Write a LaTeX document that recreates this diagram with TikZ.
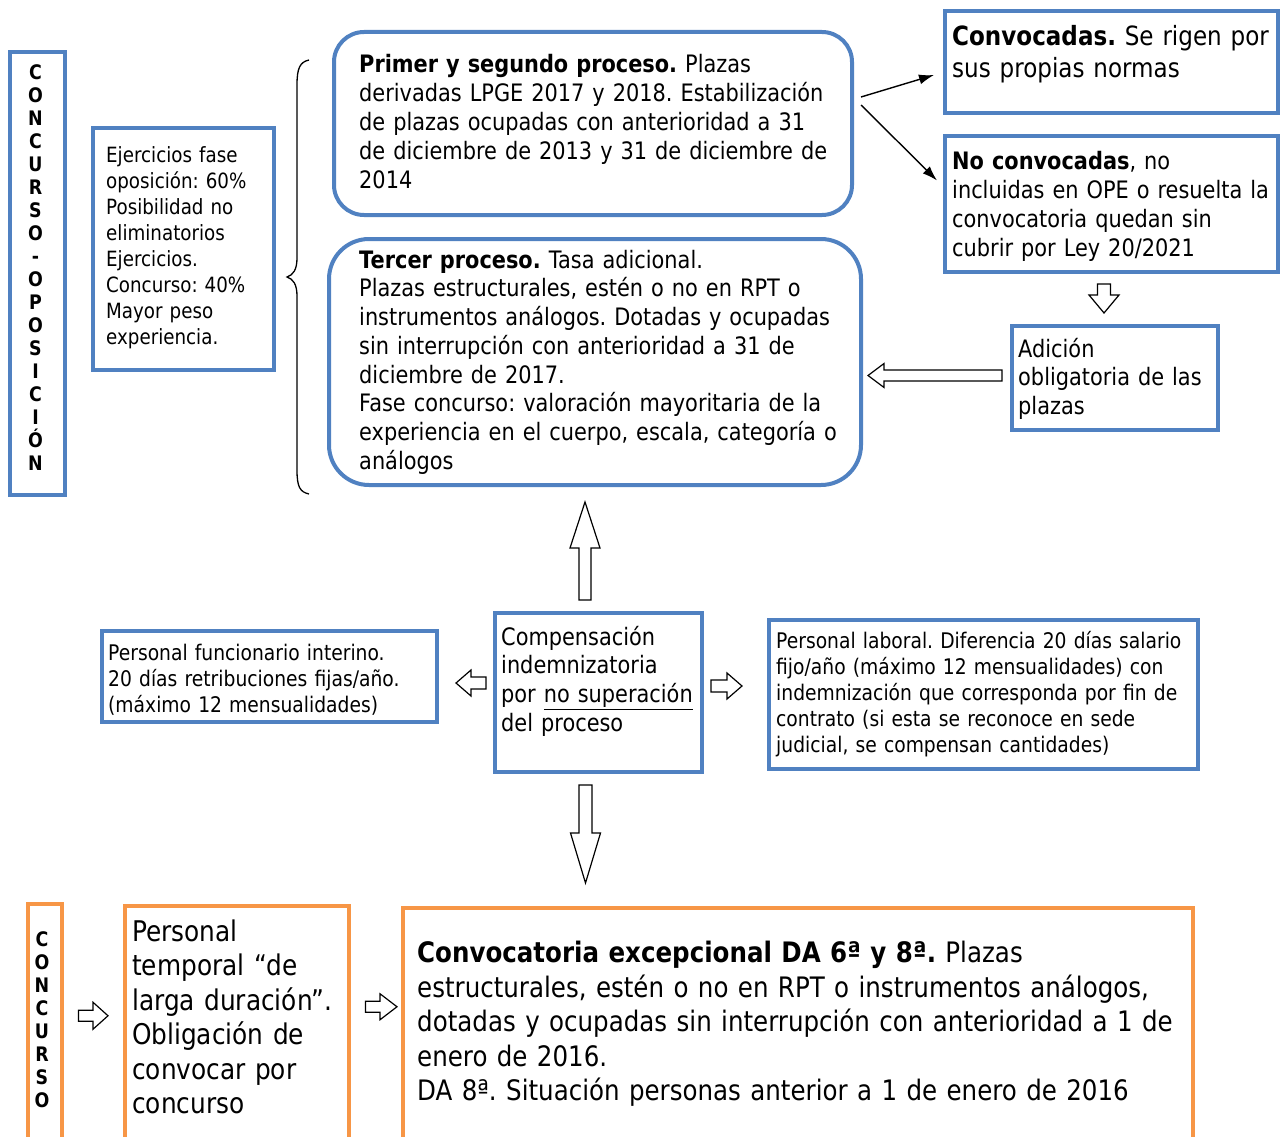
\documentclass[tikz,border=0pt]{standalone}
\usepackage{fontspec}
\setmainfont{DejaVu Sans}[FakeStretch=0.87]
\frenchspacing
\usetikzlibrary{calc,arrows.meta}
\definecolor{bblue}{RGB}{80,129,193}
\definecolor{borange}{RGB}{247,150,70}
\newcommand\fs{\rule{0pt}{0.95em}}
\newcommand\barrowV[5]{\draw[barrow] let \p1=(#1), \p2=(#2), \n1={sign(\y2-(\y1))*#5} in
  ({\x1-#3pt},\y1) -- ({\x1-#3pt},{\y2-(\n1)}) -- ({\x1-#4pt},{\y2-(\n1)}) -- (\x1,\y2) -- ({\x1+#4pt},{\y2-(\n1)}) -- ({\x1+#3pt},{\y2-(\n1)}) -- ({\x1+#3pt},\y1) -- cycle;}
\newcommand\barrowH[5]{\draw[barrow] let \p1=(#1), \p2=(#2), \n1={sign(\x2-(\x1))*#5} in
  (\x1,{\y1-#3pt}) -- ({\x2-(\n1)},{\y1-#3pt}) -- ({\x2-(\n1)},{\y1-#4pt}) -- (\x2,\y1) -- ({\x2-(\n1)},{\y1+#4pt}) -- ({\x2-(\n1)},{\y1+#3pt}) -- (\x1,{\y1+#3pt}) -- cycle;}
\tikzset{
  bbox/.style={draw=bblue, line width=4pt, inner sep=0pt, anchor=north west},
  obox/.style={draw=borange, line width=3.5pt, inner sep=0pt, anchor=north west},
  txt/.style={anchor=north west, inner sep=0pt, align=left, text width=1000pt},
  vlet/.style={align=center, inner sep=0pt, font=\bfseries\fontsize{20}{23}\selectfont},
  barrow/.style={draw=black, fill=white, line width=1.2pt, line join=miter},
  larrow/.style={draw=black, line width=1.4pt, -{Latex[length=15pt,width=10pt]}},
}
\begin{document}
\begin{tikzpicture}[x=1pt,y=-1pt]
\useasboundingbox (0,0) rectangle (1282,1137);
\clip (0,0) rectangle (1282,1137);

% ---- boxes ----
\node[bbox, minimum width=55pt, minimum height=443pt] (vb1) at (8,50) {};
\node[bbox, minimum width=181pt, minimum height=242pt] (ejer) at (91,126) {};
\node[bbox, rounded corners=30pt, minimum width=518pt, minimum height=183pt] (b1) at (332,30) {};
\node[bbox, rounded corners=40pt, minimum width=532pt, minimum height=246pt] (b2) at (327,237) {};
\node[bbox, minimum width=333pt, minimum height=102pt] (conv) at (943,9) {};
\node[bbox, minimum width=333pt, minimum height=136pt] (noconv) at (943,134) {};
\node[bbox, minimum width=206pt, minimum height=104pt] (adic) at (1010,324) {};
\node[bbox, minimum width=207pt, minimum height=159pt] (comp) at (493,611) {};
\node[bbox, minimum width=335pt, minimum height=91pt] (pfi) at (100,629) {};
\node[bbox, minimum width=429pt, minimum height=149pt] (plab) at (767,618) {};
\node[obox, minimum width=34pt, minimum height=248pt] (vb2) at (26,902) {};
\node[obox, minimum width=224pt, minimum height=246pt] (ptemp) at (123,904) {};
\node[obox, minimum width=790pt, minimum height=244pt] (cexc) at (401,906) {};

% ---- texts ----
\node[vlet] (lvb1) at (35.5,267.5) {C\\O\\N\\C\\U\\R\\S\\O\\-\\O\\P\\O\\S\\I\\C\\I\\Ó\\N};
\node[vlet] (lvb2) at (42,1020) {C\\O\\N\\C\\U\\R\\S\\O};

\node[txt, font=\fontsize{21}{26}\selectfont] (tejer) at (106,142.6) {\fs Ejercicios fase\\oposición: 60\%\\Posibilidad no\\eliminatorios\\Ejercicios.\\Concurso: 40\%\\Mayor peso\\experiencia.};

\node[txt, font=\fontsize{24}{29}\selectfont] (tb1) at (359,49.2) {\fs\textbf{Primer y segundo proceso.} Plazas\\derivadas LPGE 2017 y 2018. Estabilización\\de plazas ocupadas con anterioridad a 31\\de diciembre de 2013 y 31 de diciembre de\\2014};

\node[txt, font=\fontsize{24}{28.7}\selectfont] (tb2) at (359,245.2) {\fs\textbf{Tercer proceso.} Tasa adicional.\\Plazas estructurales, estén o no en RPT o\\instrumentos análogos. Dotadas y ocupadas\\sin interrupción con anterioridad a 31 de\\diciembre de 2017.\\Fase concurso: valoración mayoritaria de la\\experiencia en el cuerpo, escala, categoría o\\análogos};

\node[txt, font=\fontsize{26.5}{32}\selectfont] (tconv) at (952,20.3) {\fs\textbf{Convocadas.} Se rigen por\\sus propias normas};

\node[txt, font=\fontsize{24}{29}\selectfont] (tnoconv) at (952,146.2) {\fs\textbf{No convocadas}, no\\incluidas en OPE o resuelta la\\convocatoria quedan sin\\cubrir por Ley 20/2021};

\node[txt, font=\fontsize{24}{28.5}\selectfont] (tadic) at (1018,334.2) {\fs Adición\\obligatoria de las\\plazas};

\node[txt, font=\fontsize{24}{28.7}\selectfont] (tcomp) at (501,622.2) {\fs Compensación\\indemnizatoria\\por \underline{no superación}\\del proceso};

\node[txt, font=\fontsize{21.5}{26}\selectfont] (tpfi) at (108,639.6) {\fs Personal funcionario interino.\\20 días retribuciones fijas/año.\\(máximo 12 mensualidades)};

\node[txt, font=\fontsize{21.5}{26}\selectfont] (tplab) at (776,627.6) {\fs Personal laboral. Diferencia 20 días salario\\fijo/año (máximo 12 mensualidades) con\\indemnización que corresponda por fin de\\contrato (si esta se reconoce en sede\\judicial, se compensan cantidades)};

\node[txt, font=\fontsize{28.5}{34.5}\selectfont] (tptemp) at (132,913.9) {\fs Personal\\temporal “de\\larga duración”.\\Obligación de\\convocar por\\concurso};

\node[txt, font=\fontsize{28.2}{34.5}\selectfont] (tcexc) at (417,935.6) {\fs\textbf{Convocatoria excepcional DA 6ª y 8ª.} Plazas\\estructurales, estén o no en RPT o instrumentos análogos,\\dotadas y ocupadas sin interrupción con anterioridad a 1 de\\enero de 2016.\\DA 8ª. Situación personas anterior a 1 de enero de 2016};

% ---- brace ----
\draw[line width=1.3pt] (309,60) .. controls (300,62) and (297,68) .. (297,85) -- (297,258)
  .. controls (297,270) and (293,275) .. (287,277) .. controls (293,279) and (297,284) .. (297,296)
  -- (297,470) .. controls (297,487) and (300,492) .. (309,494);

% ---- line arrows ----
\coordinate (s1) at ($(b1.east)+(7,-26.5)$);
\coordinate (e1) at ($(conv.west)+(-9,13)$);
\coordinate (s2) at ($(b1.east)+(7,-18.5)$);
\coordinate (e2) at ($(noconv.west)+(-6,-23.5)$);
\draw[larrow] (s1) -- (e1);
\draw[larrow] (s2) -- (e2);

% ---- block arrows ----
\coordinate (a1s) at ($(noconv.south)+(-7.5,10)$);
\coordinate (a1e) at ($(adic.north)+(-11,-11)$);
\barrowV{a1s}{a1e}{6.5}{15}{18}

\coordinate (a2s) at ($(adic.west)+(-8,-2.5)$);
\coordinate (a2e) at ($(b2.east)+(5,13.5)$);
\barrowH{a2s}{a2e}{5.5}{12}{16}

\coordinate (a3s) at ($(comp.north)+(-13.5,-11)$);
\coordinate (a3e) at ($(b2.south)+(-10,15)$);
\barrowV{a3s}{a3e}{6}{15}{46}

\coordinate (a4s) at ($(comp.south)+(-13,11)$);
\coordinate (a4e) at ($(cexc.north)+(0,-23)$);
\barrowV{a4s}{a4e}{6.5}{15}{50}

\coordinate (a5s) at ($(comp.west)+(-7,-9.5)$);
\coordinate (a5e) at ($(pfi.east)+(17,0)$);
\barrowH{a5s}{a5e}{6}{13}{15}

\coordinate (a6s) at ($(comp.east)+(7,-6.5)$);
\coordinate (a6e) at ($(plab.west)+(-25,0)$);
\barrowH{a6s}{a6e}{6}{13}{15}

\coordinate (a7s) at ($(vb2.east)+(15,-12)$);
\coordinate (a7e) at ($(ptemp.west)+(-15,0)$);
\barrowH{a7s}{a7e}{5.5}{13.5}{15}

\coordinate (a8s) at ($(ptemp.east)+(15,-22)$);
\coordinate (a8e) at ($(cexc.west)+(-4,0)$);
\barrowH{a8s}{a8e}{5.5}{13}{17}
\end{tikzpicture}
\end{document}
